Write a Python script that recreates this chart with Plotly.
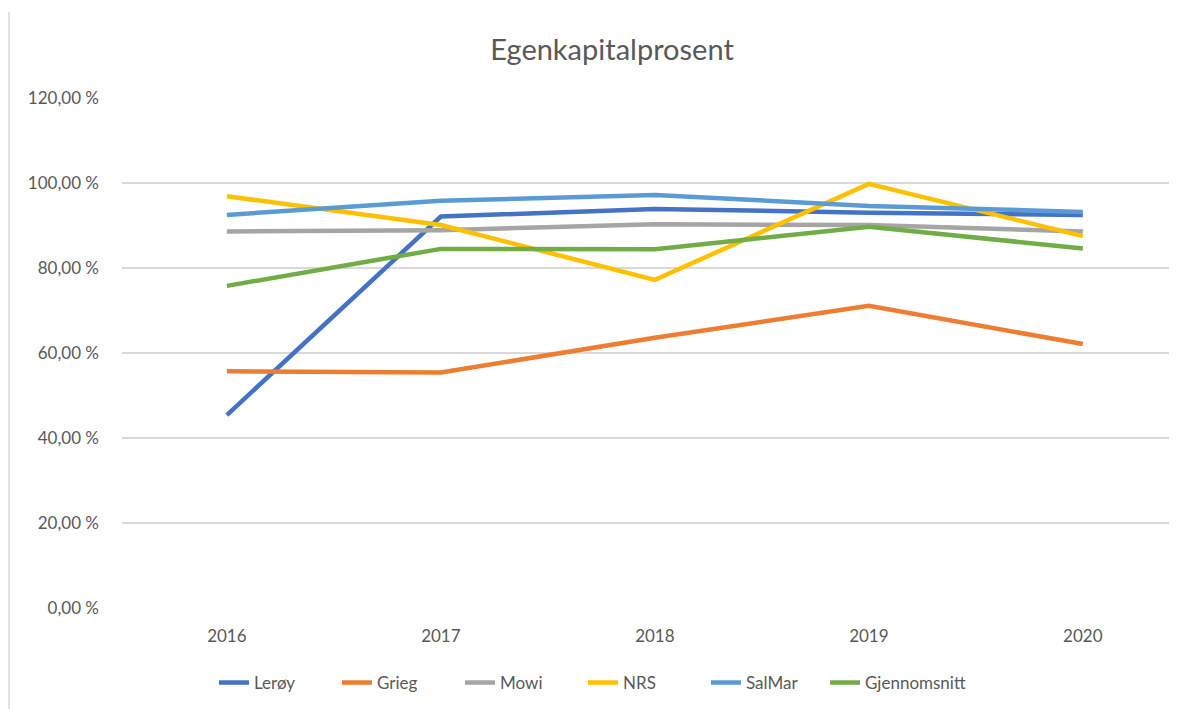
import plotly.graph_objects as go

# år og egenkapitalprosent
years = ["2016", "2017", "2018", "2019", "2020"]
leroy = [45.4, 92.1, 93.9, 93.0, 92.5]
grieg = [55.7, 55.4, 63.6, 71.1, 62.1]
mowi = [88.6, 88.9, 90.3, 90.1, 88.6]
nrs = [96.9, 90.1, 77.2, 99.8, 87.5]
salmar = [92.5, 95.8, 97.2, 94.6, 93.2]
snitt = [75.8, 84.5, 84.4, 89.7, 84.6]

y_ticks = [0, 20, 40, 60, 80, 100, 120]
y_labels = ["0,00 %", "20,00 %", "40,00 %", "60,00 %", "80,00 %", "100,00 %", "120,00 %"]

series = [
    ("Lerøy", leroy, "#4472C4", "legend"),
    ("Grieg", grieg, "#ED7D31", "legend"),
    ("Mowi", mowi, "#A5A5A5", "legend"),
    ("NRS", nrs, "#FFC000", "legend"),
    ("SalMar", salmar, "#5B9BD5", "legend"),
    ("Gjennomsnitt", snitt, "#70AD47", "legend2"),
]

fig = go.Figure()
for name, vals, col, leg in series:
    fig.add_trace(go.Scatter(x=years, y=vals, name=name, mode="lines",
                             legend=leg, line=dict(color=col, width=4.5)))

# siden har 8 px marg rundt figuren
W, H = 1169, 701
txt = "#595959"
leg_style = dict(orientation="h", xanchor="left", y=-0.147, yanchor="middle",
                 font=dict(size=17, color=txt), itemwidth=30, tracegroupgap=0)
fig.update_layout(
    width=W, height=H,
    paper_bgcolor="white", plot_bgcolor="white",
    margin=dict(l=114, r=0, t=90, b=101),
    font=dict(family="Lato, Noto Sans, sans-serif", size=17, color=txt),
    title=dict(text="Egenkapitalprosent", xref="container", x=(612 - 8) / W,
               xanchor="center", yref="container", y=1 - 42 / H,
               yanchor="middle", font=dict(size=29, color=txt)),
    showlegend=True,
    legend=dict(x=(222 - 122 - 8) / 1055, entrywidth=78, **leg_style),
    legend2=dict(x=(833 - 122 - 8) / 1055, **leg_style),
)
fig.update_xaxes(type="category", range=[-0.49, 4.44], showgrid=False,
                 showline=False, ticks="", ticklabelstandoff=16,
                 tickfont=dict(size=17, color=txt), zeroline=False)
fig.update_yaxes(range=[0, 120], tickvals=y_ticks, ticktext=y_labels,
                 showgrid=True, gridcolor="#D9D9D9", gridwidth=1.5,
                 zeroline=False, showline=False, ticks="",
                 ticklabelstandoff=22, tickfont=dict(size=17, color=txt))

# venstre kant av diagramområdet
fig.add_shape(type="line", xref="paper", yref="paper",
              x0=(9 - 122) / 1055, x1=(9 - 122) / 1055,
              y0=-101 / 510, y1=(608 - 12) / 510,
              line=dict(color="#D9D9D9", width=1.5))

fig.write_html("out.html")
